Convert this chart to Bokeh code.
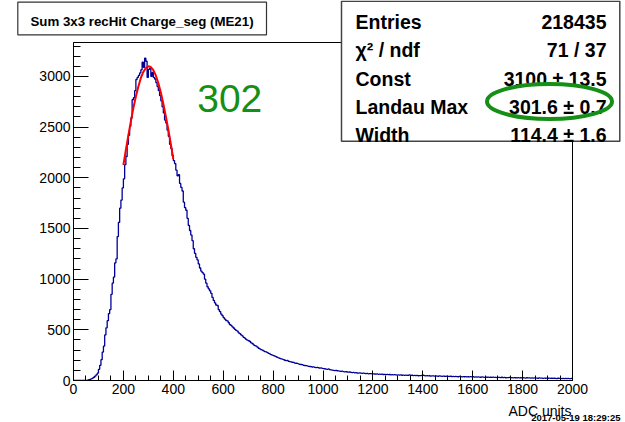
from bokeh.plotting import figure
from bokeh.models import Range1d, FixedTicker, GridBox
from bokeh.core.properties import value
from bokeh.embed import file_html
from bokeh.resources import INLINE

# ---------------- data ----------------
BIN_WIDTH = 5
X_START, X_END = 0, 2000
Y_END = 3335

counts = [
    # 0-100
    0, 0, 0, 0, 0, 0, 0, 0, 0, 0, 1, 4, 8, 12, 17, 24, 32, 44, 56, 72,
    # 100-200
    110, 150, 205, 280, 340, 450, 520, 590, 660, 700, 850, 960, 1020, 1160, 1200, 1420, 1560, 1700, 1780, 1900,
    # 200-300
    1990, 2130, 2210, 2330, 2420, 2510, 2590, 2770, 2790, 2860, 2970, 2990, 3010, 3035, 3065, 3140, 3090, 3180, 3150, 2990,
    # 300-400
    3070, 3080, 3000, 3040, 2990, 2975, 2940, 2900, 2860, 2810, 2760, 2700, 2640, 2570, 2540, 2470, 2410, 2330, 2290, 2220,
    # 400-500
    2170, 2140, 2075, 2020, 2030, 1945, 1905, 1870, 1760, 1705, 1680, 1600, 1530, 1480, 1435, 1380, 1300, 1255, 1215, 1190,
    # 500-600
    1150, 1110, 1080, 1065, 1050, 1000, 960, 925, 905, 885, 860, 820, 790, 765, 745, 740, 700, 680, 655, 640,
    # 600-700
    620, 605, 592, 588, 570, 552, 543, 530, 518, 505, 494, 488, 470, 462, 450, 440, 426, 418, 405, 398,
    # 700-800
    392, 385, 372, 365, 352, 345, 340, 330, 318, 312, 305, 300, 292, 285, 283, 276, 268, 262, 256, 250,
    # 800-900
    246, 240, 236, 228, 224, 218, 214, 210, 206, 200, 196, 198, 190, 186, 184, 180, 178, 172, 170, 168,
    # 900-1000
    164, 160, 158, 156, 150, 148, 146, 144, 140, 138, 136, 133, 134, 130, 128, 130, 126, 122, 124, 120,
    # 1000-1100
    118, 116, 112, 110, 114, 108, 104, 102, 100, 98, 100, 96, 94, 92, 90, 92, 88, 86, 88, 84,
    # 1100-1200
    82, 84, 80, 78, 80, 76, 78, 74, 72, 75, 72, 70, 73, 70, 68, 71, 66, 68, 67, 65,
    # 1200-1300
    66, 64, 62, 65, 61, 63, 60, 62, 59, 61, 58, 60, 57, 59, 56, 58, 55, 57, 56, 54,
    # 1300-1400
    55, 53, 56, 52, 54, 51, 53, 50, 52, 55, 50, 52, 49, 51, 48, 50, 47, 49, 48, 50,
    # 1400-1500
    52, 48, 46, 49, 45, 47, 44, 46, 45, 43, 46, 44, 42, 45, 43, 41, 44, 42, 40, 43,
    # 1500-1600
    41, 40, 42, 39, 41, 38, 40, 39, 37, 40, 38, 36, 39, 37, 38, 35, 37, 36, 38, 35,
    # 1600-1700
    37, 34, 36, 33, 35, 34, 32, 35, 33, 31, 34, 32, 33, 30, 32, 31, 33, 30, 31, 29,
    # 1700-1800
    31, 30, 28, 32, 29, 30, 27, 29, 28, 30, 27, 28, 26, 29, 27, 25, 28, 26, 27, 25,
    # 1800-1900
    27, 26, 24, 27, 25, 26, 23, 25, 24, 26, 23, 24, 22, 25, 23, 24, 21, 23, 22, 24,
    # 1900-2000
    22, 23, 21, 22, 20, 22, 21, 19, 22, 20, 21, 19, 20, 18, 21, 19, 20, 18, 19, 20,
]

fit_x = [200, 210, 220, 230, 240, 250, 260, 270, 280, 290, 300,
         310, 320, 330, 340, 350, 360, 370, 380, 390, 400]
fit_y = [2126, 2278, 2421, 2559, 2688, 2803, 2901, 2985, 3045, 3083, 3100,
         3093, 3063, 3010, 2935, 2842, 2731, 2609, 2477, 2334, 2186]

x_major_ticks = [0, 200, 400, 600, 800, 1000, 1200, 1400, 1600, 1800, 2000]
y_major_ticks = [0, 500, 1000, 1500, 2000, 2500, 3000]

title_text = "Sum 3x3 recHit Charge_seg (ME21)"
stat_names = ["Entries", "\u03c7\u00b2 / ndf", "Const", "Landau Max", "Width"]
stat_values = ["218435", "71 / 37", "3100 \u00b1 13.5", "301.6 \u00b1 0.7", "114.4 \u00b1 1.6"]
peak_text = "302"
x_title = "ADC units"
date_text = "2017-05-19 18:29:25"

# ---------------- main figure ----------------
W, H = 625, 422
FONT = "Liberation Sans"
BLUE = "#000099"
GREEN = "#168f16"

p = figure(width=W, height=H, title=None,
           x_range=Range1d(X_START, X_END), y_range=Range1d(0, Y_END),
           output_backend="svg", toolbar_location=None,
           min_border_left=73, min_border_right=53,
           min_border_top=42, min_border_bottom=42)
p.xgrid.visible = False
p.ygrid.visible = False
p.outline_line_color = "black"
p.outline_line_width = 1
p.background_fill_color = "white"
p.border_fill_color = "white"

xa = p.xaxis[0]
ya = p.yaxis[0]
xa.ticker = FixedTicker(ticks=x_major_ticks, minor_ticks=list(range(0, 2001, 50)))
ya.ticker = FixedTicker(ticks=y_major_ticks, minor_ticks=list(range(0, 3301, 100)))
for ax, maj, mnr in ((xa, 10, 5), (ya, 15, 7)):
    ax.major_tick_in = maj
    ax.major_tick_out = 0
    ax.minor_tick_in = mnr
    ax.minor_tick_out = 0
    ax.axis_line_color = "black"
    ax.major_tick_line_color = "black"
    ax.minor_tick_line_color = "black"
    ax.major_label_text_font = FONT
    ax.major_label_text_font_size = "14px"
    ax.major_label_text_color = "black"
xa.major_label_standoff = 3
ya.major_label_standoff = 3

# histogram (step outline)
edges = [X_START + i * BIN_WIDTH for i in range(len(counts) + 1)]
p.step(x=edges, y=counts + [counts[-1]], mode="after", line_color=BLUE, line_width=1.3)

# fit curve
p.line(fit_x, fit_y, line_color="#ff0000", line_width=2)

# ---------------- overlay figure (pixel coordinates, y downwards) ----------------
ov = figure(width=W, height=H, title=None,
            x_range=Range1d(0, W), y_range=Range1d(H, 0),
            x_axis_location=None, y_axis_location=None,
            output_backend="svg", toolbar_location=None,
            min_border=0, min_border_left=0, min_border_right=0,
            min_border_top=0, min_border_bottom=0)
ov.xgrid.visible = False
ov.ygrid.visible = False
ov.outline_line_color = None
ov.background_fill_color = None
ov.border_fill_color = None
ov.background_fill_alpha = 0
ov.border_fill_alpha = 0

# do not let the grid align the two frames
for fig in (p, ov):
    try:
        fig.frame_align = False
    except Exception:
        pass

# title box
ov.quad(left=[17.3], right=[266], top=[1.7], bottom=[34.3],
        fill_color="white", line_color="#333333", line_width=1.2)
ov.text(x=[141.5], y=[21.3], text=[title_text], text_align="center",
        text_baseline="alphabetic", text_font=value(FONT), text_font_style="bold",
        text_font_size="13.3px", text_color="black")

# stats box
ov.quad(left=[341], right=[619.3], top=[0.8], bottom=[140.7],
        fill_color="white", line_color="#444444", line_width=1.5)
baselines = [21.7, 49.9, 78.1, 106.3, 134.5]
ov.text(x=[355] * len(stat_names), y=baselines, text=stat_names, text_align="left",
        text_baseline="alphabetic", text_font=value(FONT), text_font_style="bold",
        text_font_size="19.5px", text_color="black")
ov.text(x=[606] * len(stat_values), y=baselines, text=stat_values, text_align="right",
        text_baseline="alphabetic", text_font=value(FONT), text_font_style="bold",
        text_font_size="19.5px", text_color="black")

# green ellipse around the Landau Max value
ov.ellipse(x=[549], y=[101], width=[125], height=[35],
           fill_color=None, line_color=GREEN, line_width=4)

# big green peak value
ov.text(x=[196.7], y=[98.3], text=[peak_text], text_align="left",
        text_baseline="alphabetic", text_font=value(FONT), text_font_size="39px",
        text_color=GREEN)

# axis title and date
ov.text(x=[571], y=[410], text=[x_title], text_align="right",
        text_baseline="alphabetic", text_font=value(FONT), text_font_size="14px",
        text_color="black")
ov.text(x=[620], y=[416.5], text=[date_text], text_align="right",
        text_baseline="alphabetic", text_font=value(FONT), text_font_style="bold",
        text_font_size="9.5px", text_color="black")

layout = GridBox(children=[(p, 0, 0), (ov, 0, 0)])

open("out.html", "w").write(file_html(layout, INLINE))
